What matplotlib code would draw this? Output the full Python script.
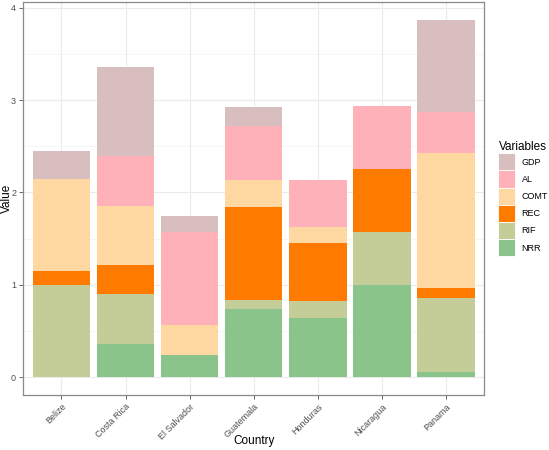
import matplotlib.pyplot as plt
from matplotlib.patches import Patch
from matplotlib.ticker import MultipleLocator
import numpy as np

plt.rcParams['font.family'] = ['Liberation Sans', 'DejaVu Sans']

# datos (segmentos apilados, de abajo hacia arriba)
paises = ["Belize", "Costa Rica", "El Salvador", "Guatemala", "Honduras", "Nicaragua", "Panama"]
nrr = [0.00, 0.36, 0.24, 0.74, 0.64, 1.00, 0.05]
rif = [1.00, 0.54, 0.00, 0.10, 0.18, 0.57, 0.81]
rec = [0.15, 0.31, 0.00, 1.00, 0.63, 0.68, 0.11]
comt = [1.00, 0.64, 0.32, 0.30, 0.18, 0.00, 1.46]
al = [0.00, 0.54, 1.01, 0.58, 0.50, 0.69, 0.44]
gdp = [0.30, 0.97, 0.17, 0.21, 0.00, 0.00, 1.00]

variables = ["NRR", "RIF", "REC", "COMT", "AL", "GDP"]
series = [nrr, rif, rec, comt, al, gdp]
colores = ["#8BC48A", "#C4CC98", "#FF7B00", "#FFD7A0", "#FFB1B9", "#D9BEC0"]

fig = plt.figure(figsize=(5.49, 4.5), dpi=100)
ax = fig.add_axes([0.042, 0.122, 0.840, 0.873])

x = np.arange(len(paises))
base = np.zeros(len(paises))
for nombre, valores, color in zip(variables, series, colores):
    ax.bar(x, valores, bottom=base, width=0.9, color=color, linewidth=0, zorder=2)
    base += np.array(valores)

ax.set_xlim(-0.6, len(paises) - 0.4)
ax.set_ylim(-0.195, 4.06)
ax.set_xticks(x)
ax.set_xticklabels(paises, rotation=45, ha="right", rotation_mode="anchor", fontsize=6.5, color="#4D4D4D")
ax.yaxis.set_major_locator(MultipleLocator(1))
ax.yaxis.set_minor_locator(MultipleLocator(0.5))
ax.tick_params(axis="y", labelsize=6.5, labelcolor="#4D4D4D", color="#4D4D4D", length=3, width=0.6, pad=2)
ax.tick_params(axis="x", color="#4D4D4D", length=3, width=0.6, pad=2)
ax.tick_params(axis="y", which="minor", length=0)

ax.grid(True, which="major", color="#EBEBEB", linewidth=0.8, zorder=0)
ax.grid(True, which="minor", axis="y", color="#F3F3F3", linewidth=0.5, zorder=0)
ax.set_axisbelow(True)
for s in ax.spines.values():
    s.set_color("#8A8A8A")
    s.set_linewidth(0.9)

ax.set_xlabel("Country", fontsize=8.5, va="center")
ax.xaxis.set_label_coords(0.5, -0.117)
ax.set_ylabel("Value", fontsize=8.5, va="center")
ax.yaxis.set_label_coords(-0.036, 0.5)

# leyenda en el orden de ggplot (de arriba hacia abajo)
handles = [Patch(facecolor=c, edgecolor="white", linewidth=0.6) for c in colores[::-1]]
leg = fig.legend(handles, variables[::-1], title="Variables", loc="upper left",
                 bbox_to_anchor=(0.908, 0.686), frameon=False, fontsize=6.5,
                 title_fontsize=8.5, handlelength=1.85, handleheight=2.55,
                 labelspacing=0.0, handletextpad=0.7, borderaxespad=0, borderpad=0)
leg._legend_box.align = "left"

fig.savefig("out.png", dpi=100)
